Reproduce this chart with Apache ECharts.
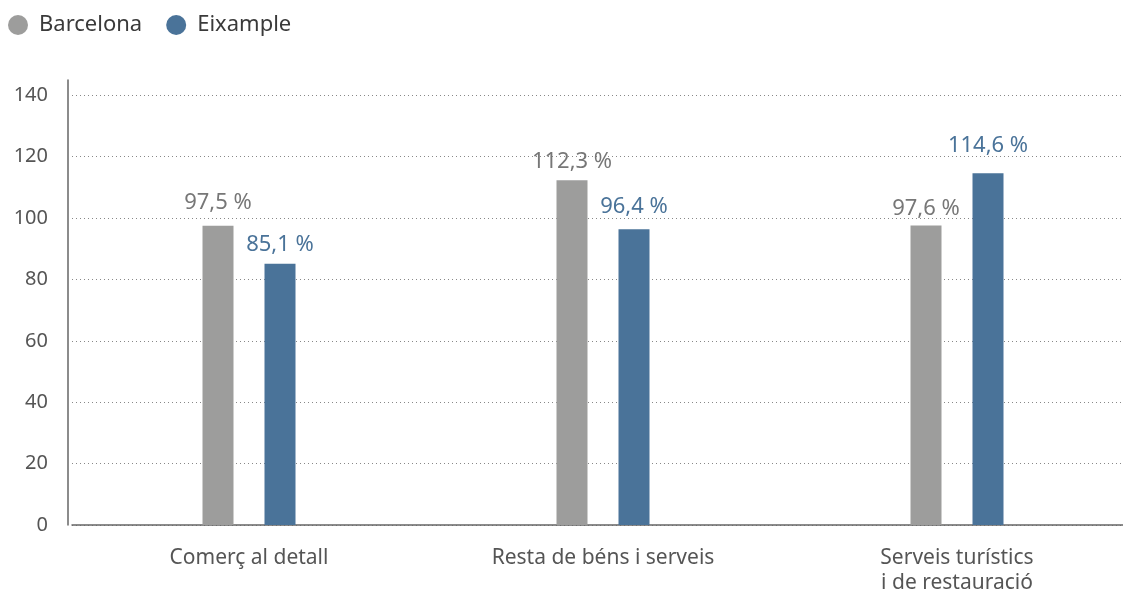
<!DOCTYPE html>
<html><head><meta charset="utf-8">
<script src="https://cdn.jsdelivr.net/npm/echarts@6/dist/echarts.min.js"></script>
<style>html,body{margin:0;padding:0;background:#fff;overflow:hidden}#c{width:1140px;height:596px}</style>
</head><body><div id="c"></div>
<script>
const categories = ['Comerç al detall', 'Resta de béns i serveis', 'Serveis turístics\ni de restauració'];
const barcelona = [97.5, 112.3, 97.6];
const eixample = [85.1, 96.4, 114.6];
const seriesNames = ['Barcelona', 'Eixample'];
const barcelonaLabelGap = [12, 8, 6];
const eixampleLabelGap = [8, 11, 17];
const fmt = v => v.toFixed(1).replace('.', ',') + ' %';
const chart = echarts.init(document.getElementById('c'));
const font = '"Noto Sans", sans-serif';
const withGap = (vals, gaps) => vals.map((v, i) => ({value: v, label: {distance: gaps[i]}}));
chart.setOption({
  animation: false,
  textStyle: {fontFamily: font},
  legend: {left: 3, top: 9, itemWidth: 20, itemHeight: 20, itemGap: 24, icon: 'circle',
    textStyle: {fontSize: 22, color: '#3a3a3a', fontFamily: font, padding: [0,0,0,6]}},
  grid: {left: 72, right: 6, top: 80, bottom: 65, containLabel: false},
  xAxis: {type: 'category', data: categories,
    axisLine: {lineStyle: {color: '#666', width: 1.5}},
    axisTick: {show: false},
    axisLabel: {fontSize: 21, color: '#555', margin: 21, lineHeight: 25, fontFamily: font}},
  yAxis: {type: 'value', min: 0, max: 145, interval: 20, offset: 4,
    axisLine: {show: true, lineStyle: {color: '#666', width: 1.5}},
    axisTick: {show: false},
    axisLabel: {fontSize: 20, color: '#555', margin: 20, showMaxLabel: false, fontFamily: font},
    splitLine: {show: true, showMaxLine: false, lineStyle: {color: '#888', type: [1, 3], width: 1}}},
  series: [
    {name: seriesNames[0], type: 'bar', data: withGap(barcelona, barcelonaLabelGap), barWidth: 31, barGap: '100%',
     itemStyle: {color: '#9d9d9c'},
     label: {show: true, position: 'top', formatter: p => fmt(p.value), fontSize: 22, color: '#777', fontFamily: font}},
    {name: seriesNames[1], type: 'bar', data: withGap(eixample, eixampleLabelGap), barWidth: 31,
     itemStyle: {color: '#4a7399'},
     label: {show: true, position: 'top', formatter: p => fmt(p.value), fontSize: 22, color: '#4a7399', fontFamily: font}}
  ]
});
</script></body></html>
